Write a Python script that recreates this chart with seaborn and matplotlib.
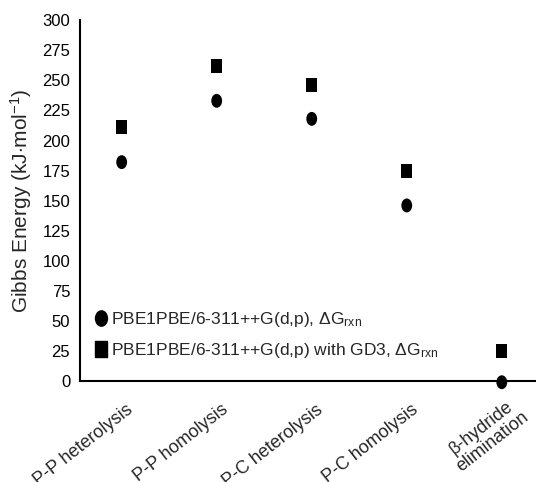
import numpy as np
import pandas as pd
import matplotlib
matplotlib.use("Agg")
import matplotlib.pyplot as plt
from matplotlib.path import Path
from matplotlib.transforms import Affine2D
from matplotlib.lines import Line2D
import seaborn as sns

categories = ["P-P heterolysis", "P-P homolysis", "P-C heterolysis",
              "P-C homolysis", "β-hydride\nelimination"]
dg_pbe = [182, 233, 218, 146, -1]
dg_pbe_gd3 = [211, 262, 246, 175, 25]
series_names = [r"PBE1PBE/6-311++G(d,p), $\Delta$G$_{\rm rxn}$",
                r"PBE1PBE/6-311++G(d,p) with GD3, $\Delta$G$_{\rm rxn}$"]
y_ticks = list(range(0, 301, 25))

df = pd.DataFrame({
    "x": list(range(len(categories))) * 2,
    "y": dg_pbe + dg_pbe_gd3,
    "series": [series_names[0]] * len(categories) + [series_names[1]] * len(categories),
})

# slightly tall markers
oval = Path.unit_circle().transformed(Affine2D().scale(0.78, 1.0))
box = Path([(-0.78, -1), (0.78, -1), (0.78, 1), (-0.78, 1), (-0.78, -1)],
           [Path.MOVETO, Path.LINETO, Path.LINETO, Path.LINETO, Path.CLOSEPOLY])

sns.set_theme(style="white")
plt.rcParams["font.family"] = ["Liberation Sans", "DejaVu Sans"]
plt.rcParams["mathtext.fontset"] = "custom"
plt.rcParams["mathtext.rm"] = "Liberation Sans"
plt.rcParams["mathtext.it"] = "Liberation Sans"

fig = plt.figure(figsize=(5.36, 4.82), dpi=100)
ax = fig.add_axes([0.149, 0.2095, 0.851, 0.7485])

sns.scatterplot(data=df, x="x", y="y", style="series",
                markers={series_names[0]: oval, series_names[1]: box},
                color="black", edgecolor="black", linewidth=0, s=100,
                ax=ax, legend=False, clip_on=False, zorder=5)

ax.set_xlim(-0.44, 4.36)
ax.set_ylim(0, 300)
ax.set_yticks(y_ticks)
ax.set_yticklabels([str(v) for v in y_ticks], fontsize=12)
ax.set_xticks(range(len(categories)))
ax.set_xticklabels([])
for i, lab in enumerate(categories):
    dx = 0.2 if "\n" in lab else 0.1
    ax.text(i + dx, -0.075, lab, transform=ax.get_xaxis_transform(),
            rotation=38, rotation_mode="anchor", ha="right", va="center",
            fontsize=13, multialignment="center", linespacing=1.05)

ax.set_xlabel("")
ax.set_ylabel(r"Gibbs Energy (kJ$\cdot$mol$^{-1}$)", fontsize=15, labelpad=6)

for side in ["top", "right"]:
    ax.spines[side].set_visible(False)
for side in ["left", "bottom"]:
    ax.spines[side].set_color("black")
    ax.spines[side].set_linewidth(1.5)
ax.tick_params(axis="both", direction="out", length=5, width=1.3,
               color="black", colors="black")
ax.tick_params(axis="y", pad=2)
ax.tick_params(axis="x", length=6)

handles = [
    Line2D([], [], linestyle="none", marker=oval, markersize=11,
           color="black", label=series_names[0]),
    Line2D([], [], linestyle="none", marker=box, markersize=11,
           color="black", label=series_names[1]),
]
ax.legend(handles=handles, loc="lower left", bbox_to_anchor=(0.01, 0.03),
          frameon=False, fontsize=12.5, handlelength=0.7, handletextpad=0.25,
          labelspacing=0.7, borderaxespad=0.2)

fig.savefig("out.png", dpi=100)
